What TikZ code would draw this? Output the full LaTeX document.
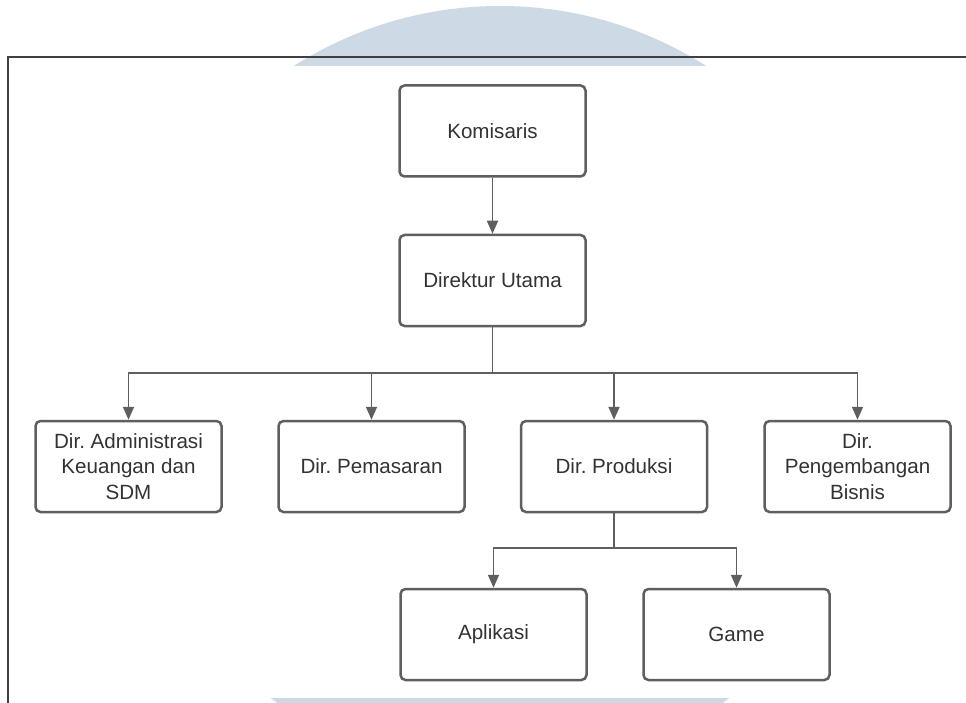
\documentclass[tikz,border=0pt]{standalone}
\usepackage{fontspec}
\setmainfont{Liberation Sans}
\usetikzlibrary{arrows.meta}
\frenchspacing
\definecolor{wmblue}{RGB}{205,217,228}
\definecolor{linegray}{RGB}{95,95,95}
\definecolor{txtgray}{RGB}{51,51,51}
\tikzset{
  box/.style={draw=linegray, line width=2.5pt, rounded corners=5pt,
    minimum width=186pt, minimum height=91pt, align=center, text=txtgray,
    font=\fontsize{20.6}{25.3}\selectfont, inner sep=2pt},
  conn/.style={draw=linegray, line width=1.8pt},
  arr/.style={conn, -{Triangle[length=13pt,width=11pt]}},
}

\begin{document}
\begin{tikzpicture}[x=1pt,y=-1pt]
  \useasboundingbox (0,0) rectangle (966,703);
  % watermark and frame
  \begin{scope}
    \clip (0,0) rectangle (966,703);
    \fill[wmblue] (500,390) circle (384);
    \fill[white] (0,66) rectangle (966,698);
  \end{scope}
  \draw[line width=1.3pt, black!75] (8,703) -- (8,57) -- (966,57);

  \node[box] (kom) at (492.5,131) {Komisaris};
  \node[box] (dirut) at (492.5,280.5) {Direktur Utama};
  \node[box] (adm) at (128.5,466.5) {Dir. Administrasi\\Keuangan dan\\SDM};
  \node[box] (pem) at (371.5,466.5) {Dir. Pemasaran};
  \node[box] (prod) at (614,466.5) {Dir. Produksi};
  \node[box] (bis) at (857.5,466.5) {Dir.\\Pengembangan\\Bisnis};
  \node[box] (apl) at (493.5,634.5) {Aplikasi};
  \node[box] (game) at (736.5,634.5) {Game};

  \coordinate (split) at (492.5,373);
  \coordinate (split2) at (614,548);

  \draw[arr] (kom) -- (dirut);
  \draw[conn] (dirut) -- (split);
  \draw[arr] (split) -| (adm);
  \draw[arr] (split) -| (pem);
  \draw[arr] (split) -| (prod);
  \draw[arr] (split) -| (bis);
  \draw[conn] (prod) -- (split2);
  \draw[arr] (split2) -| (apl);
  \draw[arr] (split2) -| (game);
\end{tikzpicture}
\end{document}
